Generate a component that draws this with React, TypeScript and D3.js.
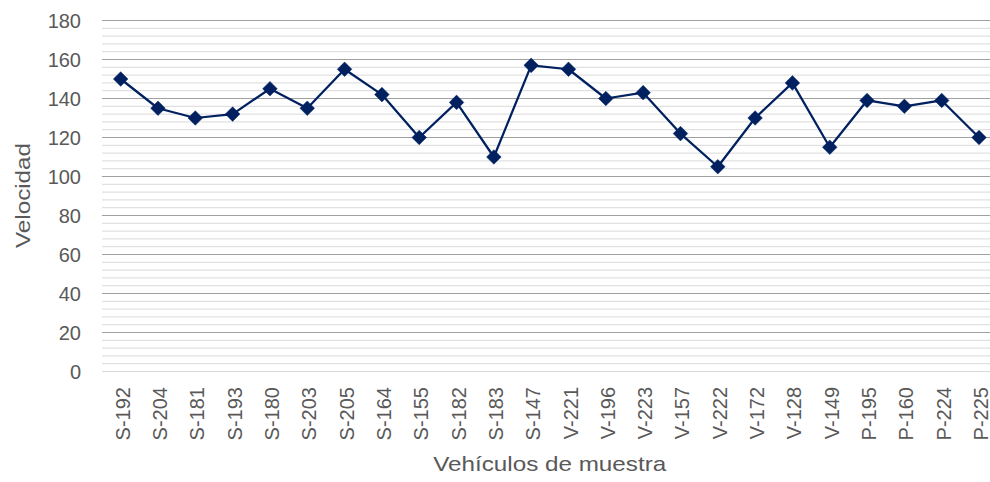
import React from "react";
import * as d3 from "d3";

const categories = [
  "S-192", "S-204", "S-181", "S-193", "S-180", "S-203", "S-205", "S-164",
  "S-155", "S-182", "S-183", "S-147", "V-221", "V-196", "V-223", "V-157",
  "V-222", "V-172", "V-128", "V-149", "P-195", "P-160", "P-224", "P-225",
];
const velocidad = [
  150, 135, 130, 132, 145, 135, 155, 142,
  120, 138, 110, 157, 155, 140, 143, 122,
  105, 130, 148, 115, 139, 136, 139, 120,
];
const majorTicks = [0, 20, 40, 60, 80, 100, 120, 140, 160, 180];
const minorStep = 4;
const yTitle = "Velocidad";
const xTitle = "Vehículos de muestra";

const W = 990;
const H = 482;
const plot = { left: 102, right: 997.7, top: 20.5, bottom: 371.5 };
const FONT = "'Liberation Sans', Arial, sans-serif";
const TEXT = "#595959";
const NAVY = "#002060";

export default function App() {
  const x = d3
    .scaleBand<string>()
    .domain(categories)
    .range([plot.left, plot.right]);
  const y = d3.scaleLinear().domain([0, 180]).range([plot.bottom, plot.top]);
  const cx = (c: string) => (x(c) ?? 0) + x.bandwidth() / 2;

  const minorTicks = d3
    .range(0, 180 + 0.001, minorStep)
    .filter((v) => v % 20 !== 0);

  const line = d3
    .line<number>()
    .x((_, i) => cx(categories[i]))
    .y((d) => y(d));

  const diamond = "M0,-7.3L7.3,0L0,7.3L-7.3,0Z";

  return (
    <svg
      width={W}
      height={H}
      style={{ position: "absolute", left: 0, top: 0, background: "#fff" }}
      fontFamily={FONT}
    >
      <rect x={0} y={0} width={W} height={H} fill="#fff" />
      {minorTicks.map((v) => (
        <line
          key={"mi" + v}
          x1={plot.left}
          x2={plot.right}
          y1={y(v)}
          y2={y(v)}
          stroke="#d9d9d9"
          strokeWidth={1}
        />
      ))}
      {majorTicks.map((v) => (
        <line
          key={"ma" + v}
          x1={plot.left}
          x2={plot.right}
          y1={y(v)}
          y2={y(v)}
          stroke={v === 0 ? "#d9d9d9" : "#a0a0a0"}
          strokeWidth={1}
        />
      ))}
      {majorTicks.map((v) => (
        <text
          key={"yl" + v}
          x={81}
          y={y(v)}
          dy="0.36em"
          textAnchor="end"
          fontSize={20}
          fill={TEXT}
        >
          {v}
        </text>
      ))}
      {categories.map((c) => (
        <text
          key={"xl" + c}
          transform={`translate(${cx(c) + 9},387) rotate(-90)`}
          textAnchor="end"
          fontSize={20}
          fill={TEXT}
        >
          {c}
        </text>
      ))}
      <path d={line(velocidad) ?? ""} fill="none" stroke={NAVY} strokeWidth={2.25} strokeLinejoin="round" />
      {velocidad.map((v, i) => (
        <path
          key={"pt" + i}
          d={diamond}
          transform={`translate(${cx(categories[i])},${y(v)})`}
          fill={NAVY}
          stroke={NAVY}
          strokeWidth={0.5}
        />
      ))}
      <text
        transform={`translate(30,195.5) rotate(-90)`}
        textAnchor="middle"
        fontSize={21}
        fill={TEXT}
        textLength={105}
        lengthAdjust="spacingAndGlyphs"
      >
        {yTitle}
      </text>
      <text
        x={549.7}
        y={470.5}
        textAnchor="middle"
        fontSize={21}
        fill={TEXT}
        textLength={233}
        lengthAdjust="spacingAndGlyphs"
      >
        {xTitle}
      </text>
    </svg>
  );
}
